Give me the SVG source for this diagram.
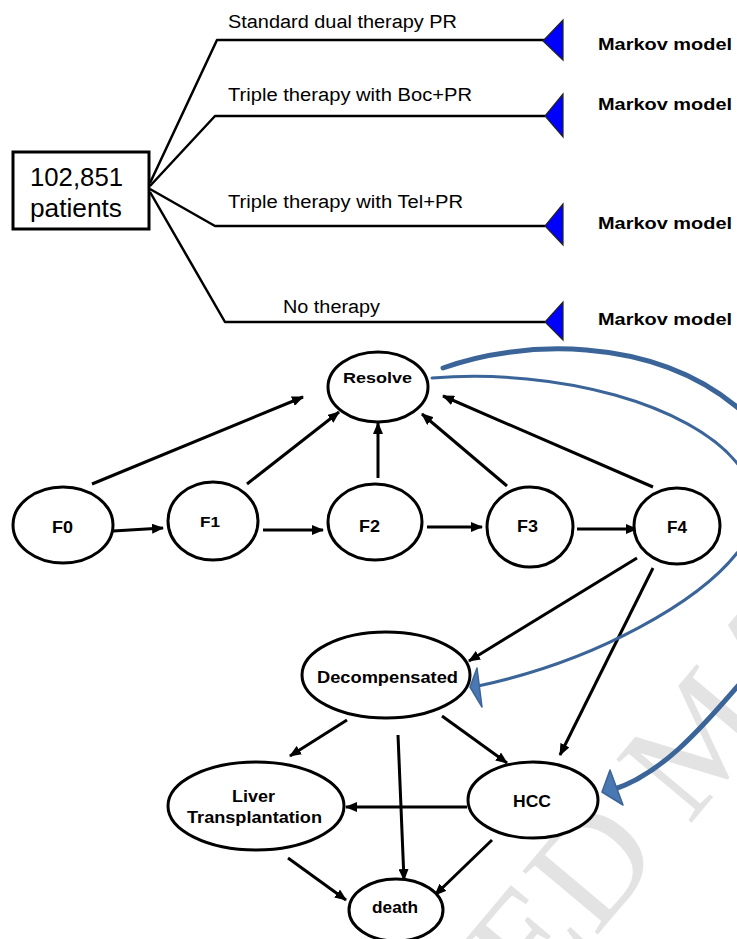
<svg xmlns="http://www.w3.org/2000/svg" width="737" height="939" viewBox="0 0 737 939">
<style>
.t{font-family:"Liberation Sans",Arial,sans-serif;fill:#000}
.tb{font-family:"Liberation Sans",Arial,sans-serif;font-weight:bold;fill:#000}
.nd{fill:#fff;stroke:#000;stroke-width:3}
.br{fill:none;stroke:#000;stroke-width:2.5;stroke-linejoin:round}
.ar{fill:none;stroke:#000;stroke-width:3;marker-end:url(#ah)}
.tri{fill:#0000ff;stroke:#222;stroke-width:1.2}
.blue{fill:none;stroke:#3b6598;stroke-linecap:round}
.bh{fill:#4a78b2;stroke:#3b6598;stroke-width:1.5;stroke-linejoin:round}
</style>
<defs>
<marker id="ah" viewBox="0 0 12 10" refX="11" refY="5" markerWidth="12" markerHeight="10" markerUnits="userSpaceOnUse" orient="auto">
<path d="M0,0 L12,5 L0,10 z" fill="#000"/>
</marker>
</defs>
<rect width="737" height="939" fill="#fff"/>
<text x="0" y="0" transform="translate(536,1008) rotate(-50)" font-family="'Liberation Serif',serif" font-size="150" fill="#e3e3e3">ED MA</text>

<g id="root">
<rect x="13" y="152" width="136" height="77" fill="#fff" stroke="#000" stroke-width="3"/>
<text class="t" x="30" y="186" font-size="25" textLength="93" lengthAdjust="spacingAndGlyphs">102,851</text>
<text class="t" x="30" y="217" font-size="25" textLength="92" lengthAdjust="spacingAndGlyphs">patients</text>
</g>

<g id="branches">
<path class="br" d="M150,183 L217,40 L545,40"/>
<path class="br" d="M150,186 L215,116 L545,116"/>
<path class="br" d="M150,189 L215,226 L545,226"/>
<path class="br" d="M150,192 L225,322 L545,322"/>
<text class="t" x="228" y="28" font-size="18" textLength="229" lengthAdjust="spacingAndGlyphs">Standard dual therapy PR</text>
<text class="t" x="228" y="101" font-size="18" textLength="244" lengthAdjust="spacingAndGlyphs">Triple  therapy with Boc+PR</text>
<text class="t" x="228" y="208" font-size="18" textLength="235" lengthAdjust="spacingAndGlyphs">Triple  therapy with Tel+PR</text>
<text class="t" x="283" y="313" font-size="18" textLength="97" lengthAdjust="spacingAndGlyphs">No therapy</text>
</g>

<g id="markov1"><polygon class="tri" points="543,41 563,20 563,60"/><text class="tb" x="598" y="50" font-size="17" textLength="134" lengthAdjust="spacingAndGlyphs">Markov model</text></g>
<g id="markov2"><polygon class="tri" points="545,116 563,94 563,137"/><text class="tb" x="598" y="110" font-size="17" textLength="134" lengthAdjust="spacingAndGlyphs">Markov model</text></g>
<g id="markov3"><polygon class="tri" points="545,226 563,204 563,245"/><text class="tb" x="598" y="229" font-size="17" textLength="134" lengthAdjust="spacingAndGlyphs">Markov model</text></g>
<g id="markov4"><polygon class="tri" points="545,322 563,302 563,340"/><text class="tb" x="598" y="325" font-size="17" textLength="134" lengthAdjust="spacingAndGlyphs">Markov model</text></g>

<g id="connectors">
<path class="ar" d="M113,531 L163,528"/>
<path class="ar" d="M263,530 L323,530"/>
<path class="ar" d="M427,527 L482,527"/>
<path class="ar" d="M577,529 L637,529"/>
<path class="ar" d="M92,484 L303,397"/>
<path class="ar" d="M247,484 L339,412"/>
<path class="ar" d="M378,478 L378,423"/>
<path class="ar" d="M507,486 L422,414"/>
<path class="ar" d="M653,487 L443,396"/>
<path class="ar" d="M637,558 L469,661"/>
<path class="ar" d="M653,568 L560,755"/>
<path class="ar" d="M347,720 L290,756"/>
<path class="ar" d="M398,735 L404,880"/>
<path class="ar" d="M442,716 L507,763"/>
<path class="ar" d="M467,807 L346,807"/>
<path class="ar" d="M288,858 L346,900"/>
<path class="ar" d="M492,840 L435,895"/>
<path class="blue" stroke-width="3" d="M432,378 C560,368 690,405 737,463 C760,495 757,530 737,553 C700,600 600,660 478,686"/>
<path class="blue" stroke-width="5" d="M443,368 C520,340 650,335 737,407 C800,460 800,620 737,687 C700,730 660,775 612,790"/>
<polygon class="bh" points="470,687 477,668 482,707"/>
<polygon class="bh" points="602,792 610,770 623,805"/>
</g>

<g id="resolve"><ellipse class="nd" cx="378" cy="387" rx="50" ry="35"/><text class="tb" x="343" y="383" font-size="15" textLength="69" lengthAdjust="spacingAndGlyphs">Resolve</text></g>
<g id="f0"><ellipse class="nd" cx="63" cy="525" rx="50" ry="38"/><text class="tb" x="52" y="533" font-size="17" textLength="21" lengthAdjust="spacingAndGlyphs">F0</text></g>
<g id="f1"><ellipse class="nd" cx="213" cy="521" rx="45" ry="39"/><text class="tb" x="200" y="527" font-size="15" textLength="20" lengthAdjust="spacingAndGlyphs">F1</text></g>
<g id="f2"><ellipse class="nd" cx="375" cy="522" rx="47" ry="38"/><text class="tb" x="359" y="532" font-size="17" textLength="21" lengthAdjust="spacingAndGlyphs">F2</text></g>
<g id="f3"><ellipse class="nd" cx="530" cy="527" rx="43" ry="40"/><text class="tb" x="517" y="532" font-size="17" textLength="21" lengthAdjust="spacingAndGlyphs">F3</text></g>
<g id="f4"><ellipse class="nd" cx="677" cy="526" rx="43" ry="38"/><text class="tb" x="667" y="533" font-size="17" textLength="20" lengthAdjust="spacingAndGlyphs">F4</text></g>
<g id="decompensated"><ellipse class="nd" cx="386" cy="675" rx="84" ry="43"/><text class="tb" x="317" y="683" font-size="17" textLength="141" lengthAdjust="spacingAndGlyphs">Decompensated</text></g>
<g id="liver"><ellipse class="nd" cx="256" cy="806" rx="88" ry="44"/><text class="tb" x="232" y="802" font-size="17" textLength="43" lengthAdjust="spacingAndGlyphs">Liver</text><text class="tb" x="187" y="823" font-size="17" textLength="135" lengthAdjust="spacingAndGlyphs">Transplantation</text></g>
<g id="hcc"><ellipse class="nd" cx="533" cy="800" rx="65" ry="38"/><text class="tb" x="513" y="807" font-size="17" textLength="38" lengthAdjust="spacingAndGlyphs">HCC</text></g>
<g id="death"><ellipse class="nd" cx="396" cy="910" rx="47" ry="31"/><text class="tb" x="372" y="913" font-size="17" textLength="46" lengthAdjust="spacingAndGlyphs">death</text></g>
</svg>
